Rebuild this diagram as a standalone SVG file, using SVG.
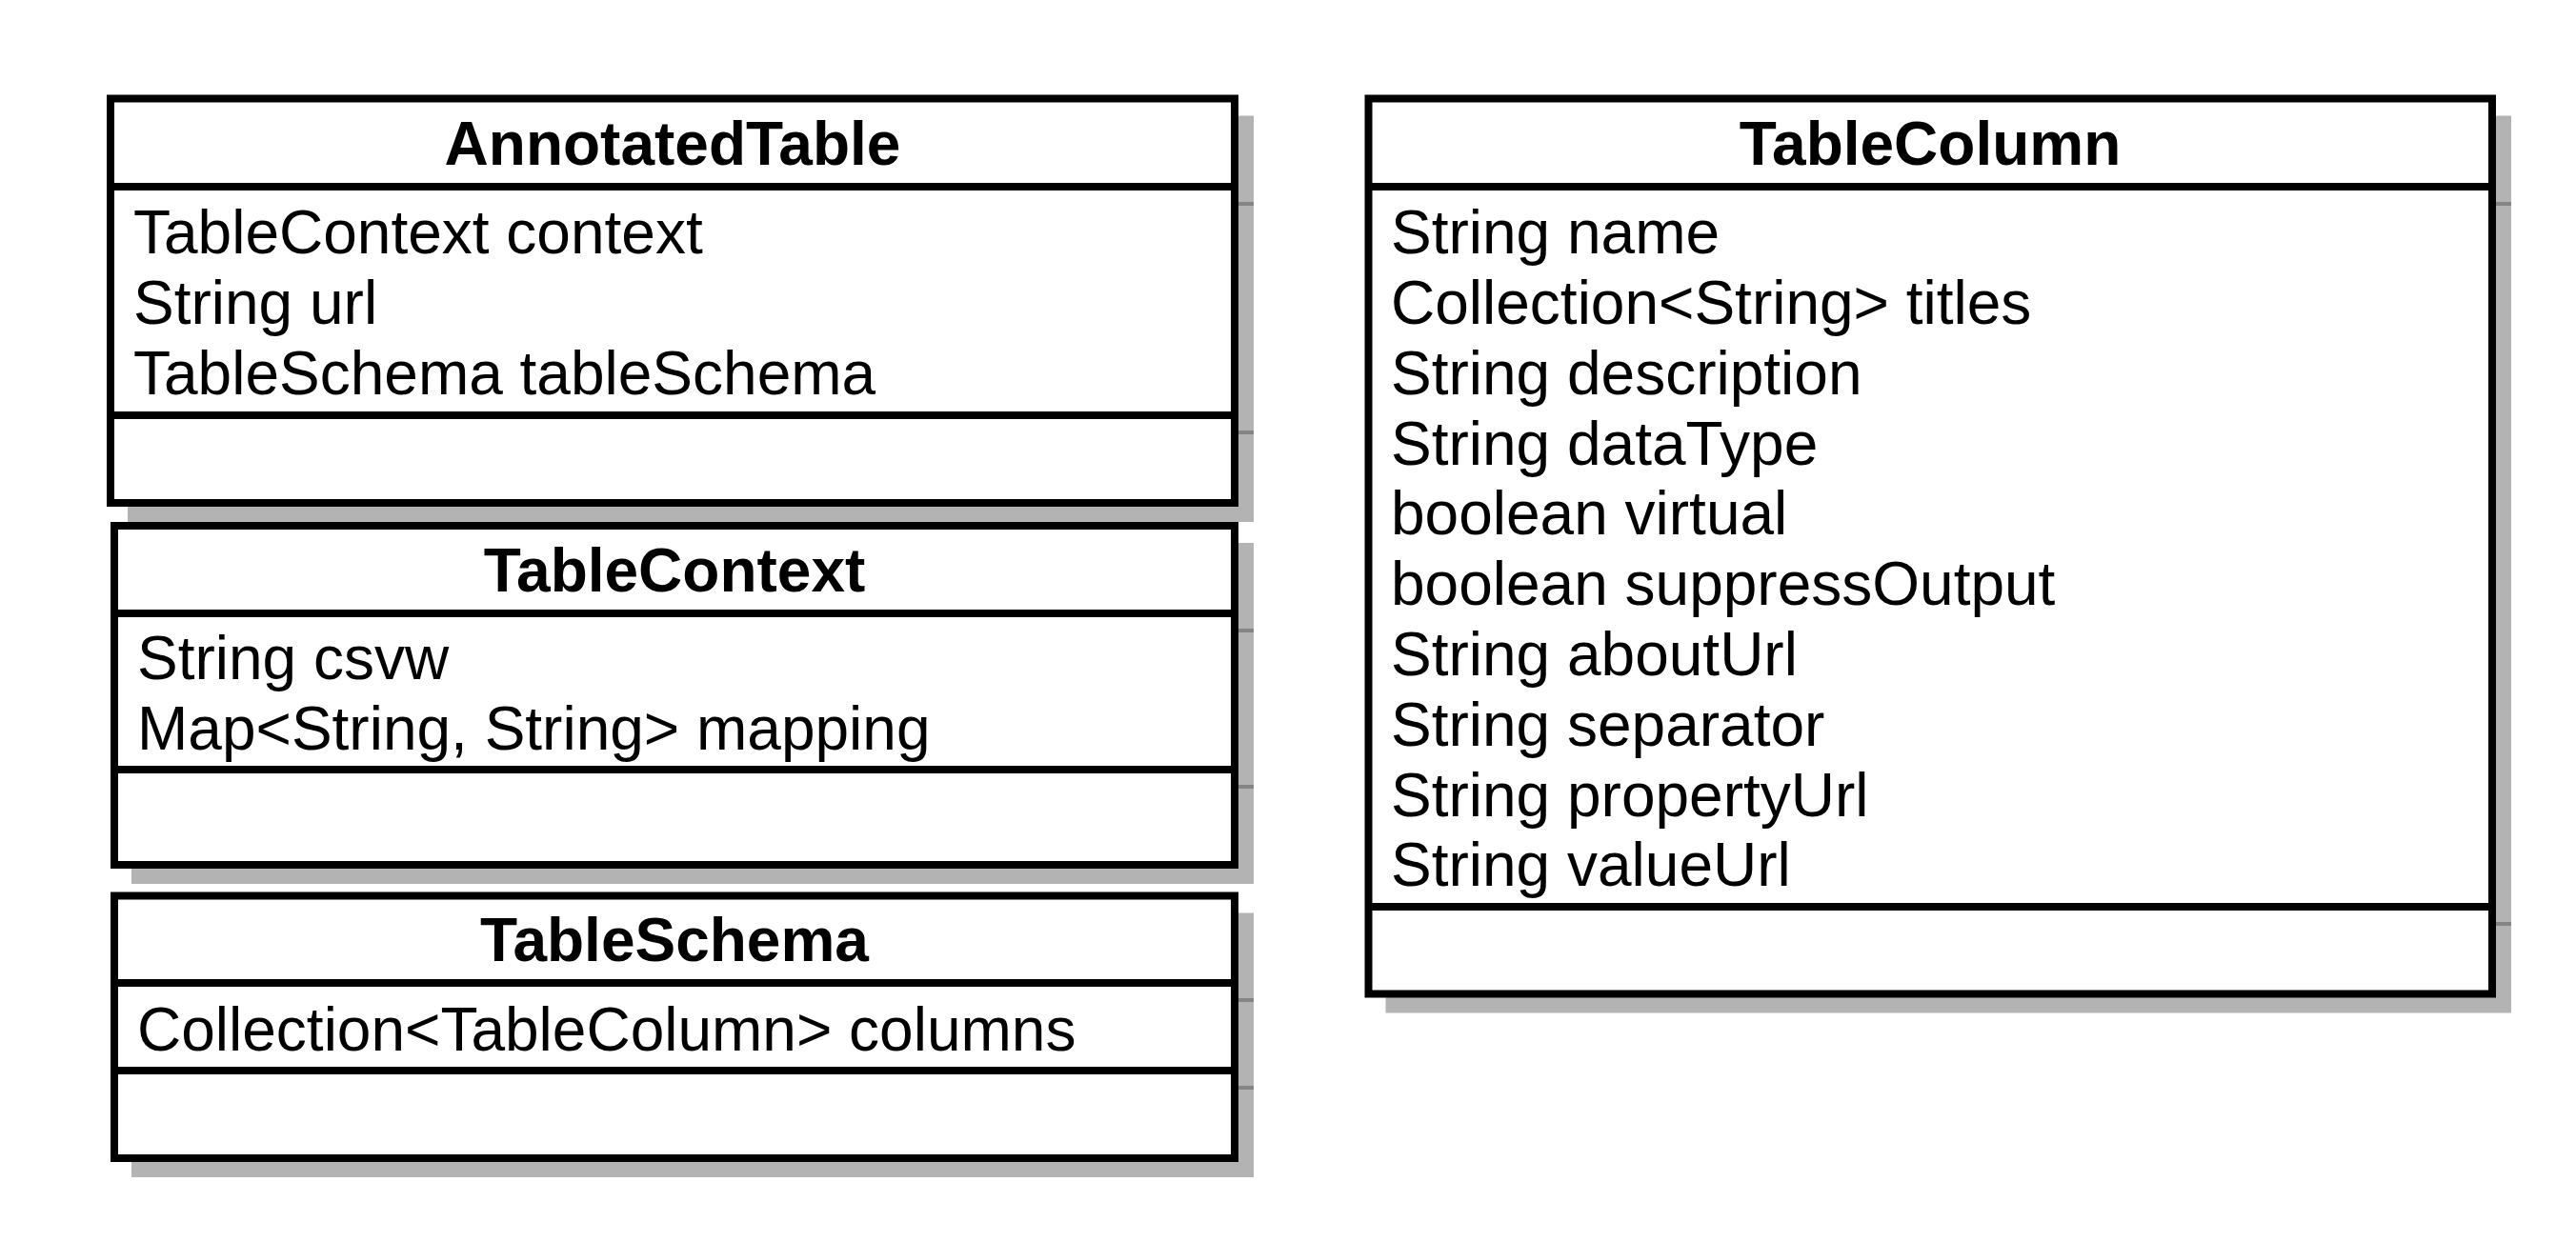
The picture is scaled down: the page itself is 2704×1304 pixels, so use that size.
<svg xmlns="http://www.w3.org/2000/svg" width="2704" height="1304" viewBox="0 0 2704 1304">
<style>
.shadow{fill:#b3b3b3;stroke:none}
.tick{stroke:#858585;stroke-width:4}
.box{fill:#ffffff;stroke:#000000;stroke-width:8;stroke-linejoin:miter}
.sep{stroke:#000000;stroke-width:8}
.title{font-family:"Liberation Sans",Arial,sans-serif;font-size:64px;font-weight:bold;text-anchor:middle;fill:#000}
.attr{font-family:"Liberation Sans",Arial,sans-serif;font-size:64px;fill:#000}
</style>
<rect width="2704" height="1304" fill="#ffffff"/>
<g id="connectors"/>
<g id="AnnotatedTable">
  <rect class="shadow" x="134" y="121.5" width="1182" height="426.5"/>
  <line class="tick" x1="134" y1="214" x2="1316" y2="214"/>
  <line class="tick" x1="134" y1="454" x2="1316" y2="454"/>
  <rect class="box" x="116" y="103.5" width="1180" height="424.5"/>
  <line class="sep" x1="116" y1="196" x2="1296" y2="196"/>
  <line class="sep" x1="116" y1="436" x2="1296" y2="436"/>
  <text class="title" x="706" y="173">AnnotatedTable</text>
  <text class="attr" x="140" y="266">TableContext context</text>
  <text class="attr" x="140" y="340">String url</text>
  <text class="attr" x="140" y="414">TableSchema tableSchema</text>
</g>
<g id="TableContext">
  <rect class="shadow" x="138" y="570" width="1178" height="358"/>
  <line class="tick" x1="138" y1="662" x2="1316" y2="662"/>
  <line class="tick" x1="138" y1="826" x2="1316" y2="826"/>
  <rect class="box" x="120" y="552" width="1176" height="356"/>
  <line class="sep" x1="120" y1="644" x2="1296" y2="644"/>
  <line class="sep" x1="120" y1="808" x2="1296" y2="808"/>
  <text class="title" x="708" y="621">TableContext</text>
  <text class="attr" x="144" y="713">String csvw</text>
  <text class="attr" x="144" y="787">Map&lt;String, String&gt; mapping</text>
</g>
<g id="TableSchema">
  <rect class="shadow" x="138" y="958.5" width="1178" height="277.5"/>
  <line class="tick" x1="138" y1="1050" x2="1316" y2="1050"/>
  <line class="tick" x1="138" y1="1142" x2="1316" y2="1142"/>
  <rect class="box" x="120" y="940.5" width="1176" height="275.5"/>
  <line class="sep" x1="120" y1="1032" x2="1296" y2="1032"/>
  <line class="sep" x1="120" y1="1124" x2="1296" y2="1124"/>
  <text class="title" x="708" y="1009">TableSchema</text>
  <text class="attr" x="144" y="1103">Collection&lt;TableColumn&gt; columns</text>
</g>
<g id="TableColumn">
  <rect class="shadow" x="1454.5" y="121.5" width="1181.5" height="942"/>
  <line class="tick" x1="1454.5" y1="214" x2="2636" y2="214"/>
  <line class="tick" x1="1454.5" y1="970" x2="2636" y2="970"/>
  <rect class="box" x="1436.5" y="103.5" width="1179.5" height="940"/>
  <line class="sep" x1="1436.5" y1="196" x2="2616" y2="196"/>
  <line class="sep" x1="1436.5" y1="952" x2="2616" y2="952"/>
  <text class="title" x="2026" y="173">TableColumn</text>
  <text class="attr" x="1460" y="266">String name</text>
  <text class="attr" x="1460" y="340">Collection&lt;String&gt; titles</text>
  <text class="attr" x="1460" y="413.5">String description</text>
  <text class="attr" x="1460" y="487.5">String dataType</text>
  <text class="attr" x="1460" y="561">boolean virtual</text>
  <text class="attr" x="1460" y="635">boolean suppressOutput</text>
  <text class="attr" x="1460" y="709">String aboutUrl</text>
  <text class="attr" x="1460" y="782.5">String separator</text>
  <text class="attr" x="1460" y="856.5">String propertyUrl</text>
  <text class="attr" x="1460" y="930">String valueUrl</text>
</g>
</svg>
